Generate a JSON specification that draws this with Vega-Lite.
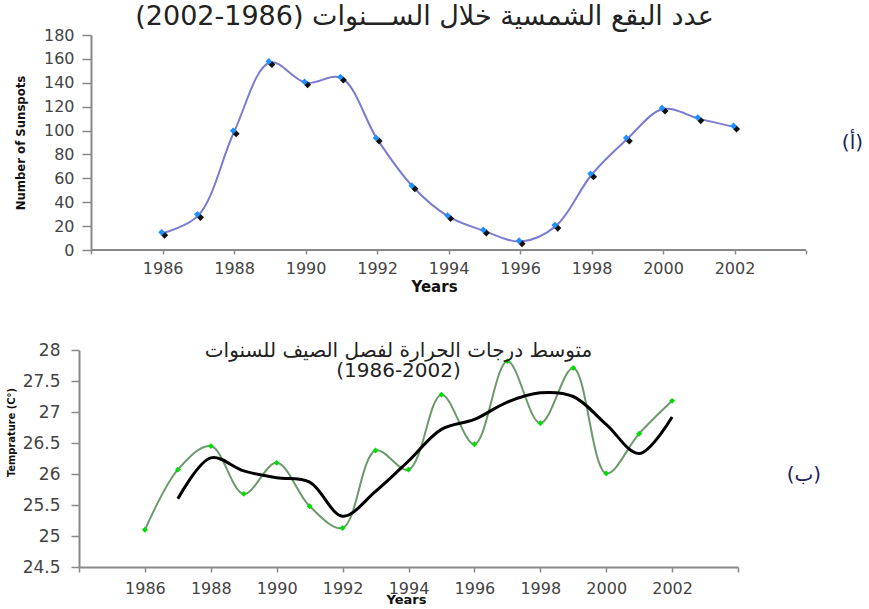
{
  "$schema": "https://vega.github.io/schema/vega-lite/v6.json",
  "background": "white",
  "padding": {"left": 5, "top": 3, "right": 0, "bottom": 0},
  "spacing": 47,
  "config": {
    "view": {"stroke": null},
    "axis": {"grid": false, "domainColor": "#888", "tickColor": "#888", "domainWidth": 2, "tickWidth": 1.5, "labelColor": "#444", "labelFont": "DejaVu Sans", "titleColor": "#111", "labelOverlap": false, "tickCount": 30},
    "title": {"font": "DejaVu Sans", "color": "#222", "fontWeight": "normal"}
  },
  "datasets": {
    "sunspots": [
      {"year": 1986, "count": 14}, {"year": 1987, "count": 29}, {"year": 1988, "count": 99},
      {"year": 1989, "count": 157}, {"year": 1990, "count": 140}, {"year": 1991, "count": 144},
      {"year": 1992, "count": 93}, {"year": 1993, "count": 53}, {"year": 1994, "count": 28},
      {"year": 1995, "count": 16}, {"year": 1996, "count": 7}, {"year": 1997, "count": 20},
      {"year": 1998, "count": 63}, {"year": 1999, "count": 93}, {"year": 2000, "count": 118},
      {"year": 2001, "count": 110}, {"year": 2002, "count": 103}
    ],
    "temps": [
      {"year": 1986, "temp": 25.1}, {"year": 1987, "temp": 26.07}, {"year": 1988, "temp": 26.45},
      {"year": 1989, "temp": 25.68}, {"year": 1990, "temp": 26.18}, {"year": 1991, "temp": 25.48},
      {"year": 1992, "temp": 25.13}, {"year": 1993, "temp": 26.38}, {"year": 1994, "temp": 26.07},
      {"year": 1995, "temp": 27.28}, {"year": 1996, "temp": 26.48}, {"year": 1997, "temp": 27.82},
      {"year": 1998, "temp": 26.82}, {"year": 1999, "temp": 27.71}, {"year": 2000, "temp": 26.01},
      {"year": 2001, "temp": 26.65}, {"year": 2002, "temp": 27.18}
    ],
    "smooth": [
      {"year": 1987, "temp": 25.6}, {"year": 1988, "temp": 26.26}, {"year": 1989, "temp": 26.05},
      {"year": 1990, "temp": 25.94}, {"year": 1991, "temp": 25.87}, {"year": 1992, "temp": 25.32},
      {"year": 1993, "temp": 25.72}, {"year": 1994, "temp": 26.21}, {"year": 1995, "temp": 26.72},
      {"year": 1996, "temp": 26.88}, {"year": 1997, "temp": 27.16}, {"year": 1998, "temp": 27.31},
      {"year": 1999, "temp": 27.25}, {"year": 2000, "temp": 26.8}, {"year": 2001, "temp": 26.33},
      {"year": 2002, "temp": 26.92}
    ]
  },
  "vconcat": [
    {
      "width": 727,
      "height": 215,
      "title": {"text": "(2002-1986) عدد البقع الشمسية خلال الســـنوات", "fontSize": 27, "dx": -18, "offset": -4, "frame": "group", "anchor": "middle"},
      "layer": [
        {
          "data": {"name": "sunspots"},
          "mark": {"type": "line", "interpolate": "catmull-rom", "color": "#7b7bd0", "strokeWidth": 2},
          "encoding": {
            "x": {"field": "year", "type": "quantitative",
              "scale": {"domain": [1983.66, 2004], "nice": false, "zero": false},
              "axis": {"values": [1984, 1986, 1988, 1990, 1992, 1994, 1996, 1998, 2000, 2002, 2004], "format": "d",
                "labelExpr": "datum.value == 1984 || datum.value == 2004 ? '' : datum.label",
                "labelOverlap": false, "tickCount": 30,
                "domain": false, "tickSize": 4, "labelPadding": 6, "labelFontSize": 16,
                "title": "Years", "titleFont": "DejaVu Sans", "titleFontWeight": "bold", "titleFontSize": 15, "titlePadding": 3, "titleX": 355}},
            "y": {"field": "count", "type": "quantitative",
              "scale": {"domain": [0, 180], "nice": false},
              "axis": {"values": [0, 20, 40, 60, 80, 100, 120, 140, 160, 180], "labelOverlap": false, "tickCount": 30, "offset": -12, "tickSize": 9, "labelPadding": 8, "labelFontSize": 16,
                "title": "Number of Sunspots", "titleFont": "DejaVu Sans Condensed, Liberation Sans Narrow, sans-serif", "titleFontWeight": "bold", "titleFontSize": 13, "titlePadding": 16}}
          }
        },
        {
          "data": {"values": [{}]},
          "mark": {"type": "rule", "color": "#888", "strokeWidth": 2},
          "encoding": {
            "x": {"datum": 1984, "type": "quantitative"},
            "x2": {"datum": 2004},
            "y": {"datum": 0, "type": "quantitative"}
          }
        },
        {
          "data": {"name": "sunspots"},
          "mark": {"type": "point", "shape": "diamond", "filled": true, "color": "#111", "size": 50, "opacity": 1, "xOffset": 2, "yOffset": 2},
          "encoding": {"x": {"field": "year", "type": "quantitative"}, "y": {"field": "count", "type": "quantitative"}}
        },
        {
          "data": {"name": "sunspots"},
          "mark": {"type": "point", "shape": "diamond", "filled": true, "color": "#1e8fff", "size": 45, "opacity": 1, "xOffset": -1, "yOffset": -1},
          "encoding": {"x": {"field": "year", "type": "quantitative"}, "y": {"field": "count", "type": "quantitative"}}
        },
        {
          "data": {"values": [{}]},
          "mark": {"type": "text", "font": "DejaVu Sans", "fontSize": 20, "color": "#202060", "align": "center", "baseline": "middle"},
          "encoding": {
            "x": {"datum": 2005.3, "type": "quantitative"},
            "y": {"datum": 90, "type": "quantitative"},
            "text": {"value": "(أ)"}
          }
        }
      ]
    },
    {
      "width": 659,
      "height": 217,
      "title": {"text": ["متوسط درجات  الحرارة  لفصل الصيف  للسنوات", "(1986-2002)"], "fontSize": 20, "lineHeight": 20, "dx": -10, "offset": -40, "frame": "group", "anchor": "middle"},
      "layer": [
        {
          "data": {"name": "temps"},
          "mark": {"type": "line", "interpolate": "catmull-rom", "color": "#6b9a6b", "strokeWidth": 2},
          "encoding": {
            "x": {"field": "year", "type": "quantitative",
              "scale": {"domain": [1984, 2004], "nice": false, "zero": false},
              "axis": {"values": [1984, 1986, 1988, 1990, 1992, 1994, 1996, 1998, 2000, 2002, 2004], "format": "d",
                "labelExpr": "datum.value == 1984 || datum.value == 2004 ? '' : datum.label",
                "labelOverlap": false, "tickCount": 30,
                "tickSize": 5, "labelPadding": 8, "labelFontSize": 16,
                "title": "Years", "titleFont": "DejaVu Sans", "titleFontWeight": "bold", "titleFontSize": 13, "titlePadding": -3, "titleX": 327}},
            "y": {"field": "temp", "type": "quantitative",
              "scale": {"domain": [24.5, 28], "nice": false, "zero": false},
              "axis": {"values": [24.5, 25, 25.5, 26, 26.5, 27, 27.5, 28], "labelOverlap": false, "tickCount": 30, "format": "~g", "tickSize": 8, "labelPadding": 11, "labelFontSize": 17,
                "title": "Temprature (C°)", "titleFont": "DejaVu Sans Condensed, Liberation Sans Narrow, sans-serif", "titleFontWeight": "bold", "titleFontSize": 11, "titlePadding": 6, "titleY": 82}}
          }
        },
        {
          "data": {"name": "smooth"},
          "mark": {"type": "line", "interpolate": "catmull-rom", "color": "#000", "strokeWidth": 3},
          "encoding": {"x": {"field": "year", "type": "quantitative"}, "y": {"field": "temp", "type": "quantitative"}}
        },
        {
          "data": {"name": "temps"},
          "mark": {"type": "point", "shape": "diamond", "filled": true, "color": "#00dd00", "size": 35, "opacity": 1},
          "encoding": {"x": {"field": "year", "type": "quantitative"}, "y": {"field": "temp", "type": "quantitative"}}
        },
        {
          "data": {"values": [{}]},
          "mark": {"type": "text", "font": "DejaVu Sans", "fontSize": 20, "color": "#202060", "align": "center", "baseline": "middle"},
          "encoding": {
            "x": {"datum": 2006.0, "type": "quantitative"},
            "y": {"datum": 25.98, "type": "quantitative"},
            "text": {"value": "(ب)"}
          }
        }
      ]
    }
  ]
}
